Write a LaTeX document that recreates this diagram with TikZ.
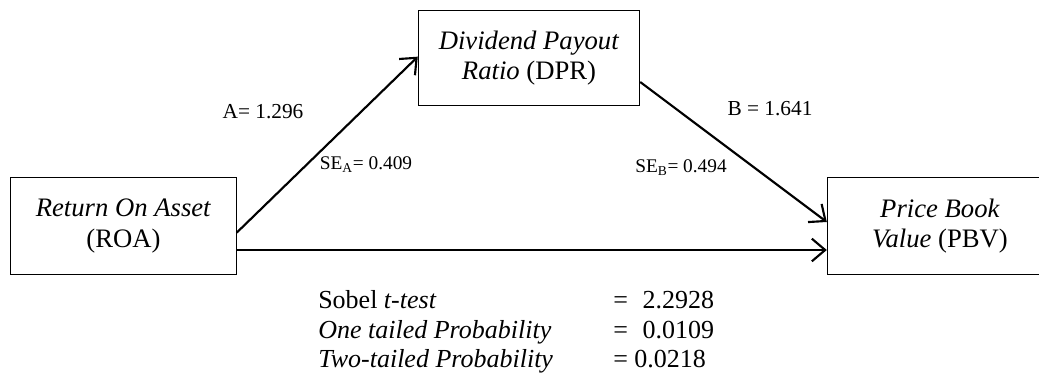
\documentclass[tikz,border=0pt]{standalone}
\usepackage{fontspec}
\setmainfont{Liberation Serif}
\usetikzlibrary{arrows.meta}
\tikzstyle{var} = [rectangle, minimum width=169pt, minimum height=73pt, text centered, align=center, draw=black, line width=0.8pt, font=\fontsize{20}{23}\selectfont]
\tikzstyle{arrow} = [line width=1.6pt,-{Straight Barb[length=10pt,width=17pt,line width=1.6pt]}]
\tikzstyle{coef} = [font=\fontsize{16}{19}\selectfont]
\tikzstyle{se} = [font=\fontsize{14.5}{17}\selectfont]
\tikzstyle{stat} = [anchor=base west, inner sep=0pt, font=\fontsize{19.5}{23}\selectfont]

\begin{document}
\begin{tikzpicture}[x=0.75pt,y=-0.75pt]
\useasboundingbox (0,0) rectangle (1039,374);

\node (ROA) [var] at (123.5,226) {\textit{Return On Asset}\\(ROA)};
\node (DPR) [var, minimum width=166pt, minimum height=71pt] at (529,58) {\textit{Dividend Payout}\\\textit{Ratio} (DPR)};
\node (PBV) [var] at (940,226) {\textit{Price Book}\\\textit{Value} (PBV)};

\draw [arrow] ([yshift=-5pt]ROA.east) -- ([yshift=1pt]DPR.west);
\draw [arrow] ([yshift=-18pt]DPR.east) -- ([yshift=3pt]PBV.west);
\draw [arrow] ([yshift=-18pt]ROA.east) -- ([yshift=-18pt]PBV.west);

\node (a) [coef] at (263,112) {A= 1.296};
\node (sea) [se] at (366,165) {SE\textsubscript{A}= 0.409};
\node (b) [coef] at (770,109) {B = 1.641};
\node (seb) [se] at (681,168) {SE\textsubscript{B}= 0.494};

\node (sobel) [stat] at (318,308) {Sobel \textit{t-test}};
\node (one) [stat] at (318,338) {\textit{One tailed Probability}};
\node (two) [stat] at (318,367) {\textit{Two-tailed Probability}};
\node (sobelv) [stat] at (613,308) {=\hspace{11pt}2.2928};
\node (onev) [stat] at (613,338) {=\hspace{11pt}0.0109};
\node (twov) [stat] at (613,367) {= 0.0218};

\end{tikzpicture}
\end{document}
